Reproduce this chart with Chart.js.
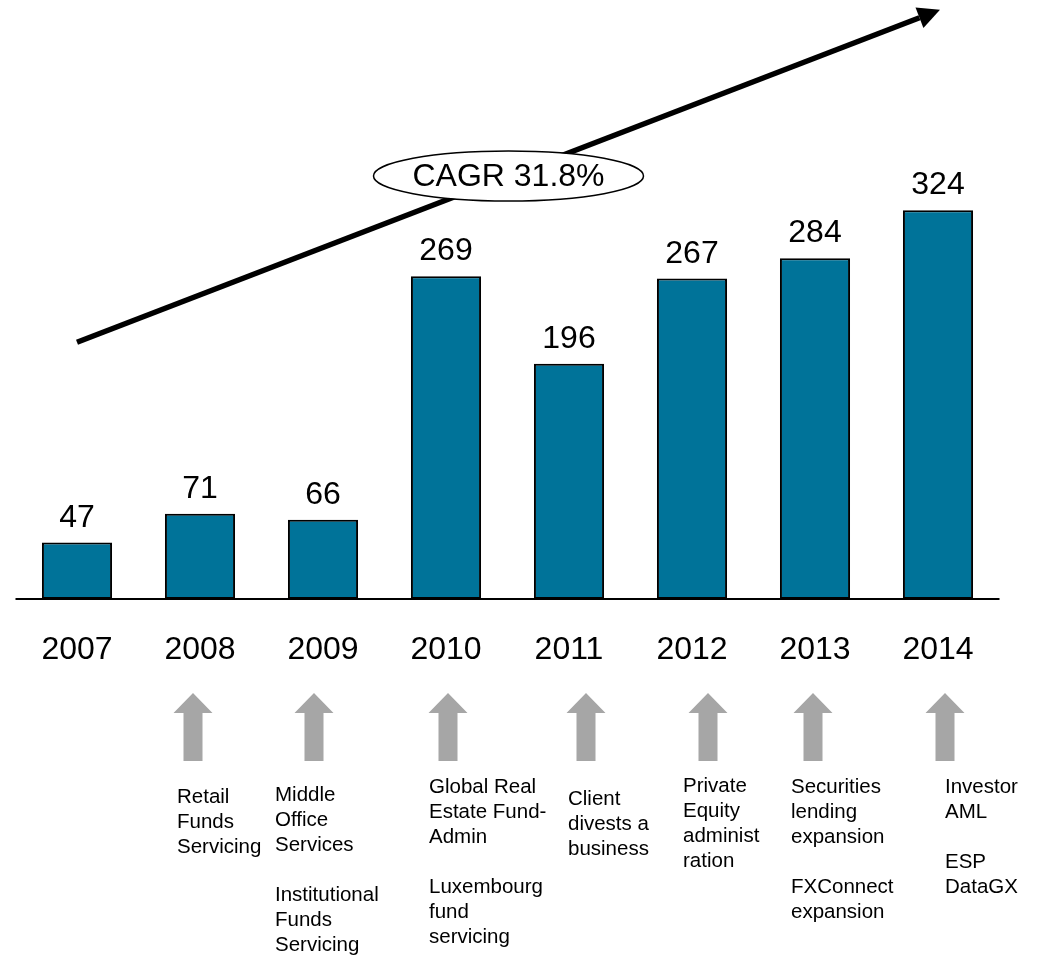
<!DOCTYPE html>
<html>
<head>
<meta charset="utf-8">
<script src="https://cdn.jsdelivr.net/npm/chart.js@4"></script>
<style>
  body { margin: 0; background: #fff; }
  #wrap { width: 1040px; height: 958px; position: relative; }
</style>
</head>
<body>
<div id="wrap"><canvas id="revChart"></canvas></div>
<script>
// data
const years = ['2007', '2008', '2009', '2010', '2011', '2012', '2013', '2014'];
const revenue = [47, 71, 66, 269, 196, 267, 284, 324];
const cagrLabel = 'CAGR 31.8%';
const notes = [
  [],
  ['Retail', 'Funds', 'Servicing'],
  ['Middle', 'Office', 'Services', '', 'Institutional', 'Funds', 'Servicing'],
  ['Global Real', 'Estate Fund-', 'Admin', '', 'Luxembourg', 'fund', 'servicing'],
  ['Client', 'divests a', 'business'],
  ['Private', 'Equity', 'administ', 'ration'],
  ['Securities', 'lending', 'expansion', '', 'FXConnect', 'expansion'],
  ['Investor', 'AML', '', 'ESP', 'DataGX']
];

// layout only (pixel offsets from each year's centre)
const arrowDx = [0, -7, -9, 2, 17, 16, -2, 7];
const noteDx = [0, -23, -48, -17, -1, -9, -24, 7];
const noteTop = [0, 803, 801, 793, 805, 792, 793, 793];
const trendStart = 214, trendEnd = 491; // axis units at first / last year

const FONT = '"Liberation Sans", Arial, sans-serif';
const ctx = document.getElementById('revChart').getContext('2d');

// draws baseline, labels, trend arrow, CAGR bubble and the grey arrows
const decor = {
  id: 'decor',
  afterDatasetsDraw(chart) {
    const c = chart.ctx;
    const xs = chart.scales.x, ys = chart.scales.y;
    const area = chart.chartArea;
    const y0 = ys.getPixelForValue(0);
    c.save();

    // baseline
    c.strokeStyle = '#000';
    c.lineWidth = 2;
    c.beginPath();
    c.moveTo(area.left, y0);
    c.lineTo(area.right, y0);
    c.stroke();

    // value labels and years
    c.fillStyle = '#000';
    c.font = '32px ' + FONT;
    c.textAlign = 'center';
    c.textBaseline = 'alphabetic';
    chart.getDatasetMeta(0).data.forEach((bar, i) => {
      c.fillText(String(revenue[i]), bar.x, bar.y - 16);
      c.fillText(years[i], xs.getPixelForValue(i), 659);
    });

    // trend arrow
    const x1 = xs.getPixelForValue(0), y1 = ys.getPixelForValue(trendStart);
    const x2 = xs.getPixelForValue(years.length - 1) + 2, y2 = ys.getPixelForValue(trendEnd);
    const ang = Math.atan2(y2 - y1, x2 - x1);
    const headL = 22, headW = 11;
    const bx = x2 - headL * Math.cos(ang), by = y2 - headL * Math.sin(ang);
    c.lineWidth = 5.5;
    c.beginPath();
    c.moveTo(x1, y1);
    c.lineTo(bx, by);
    c.stroke();
    c.beginPath();
    c.moveTo(x2, y2);
    c.lineTo(bx + headW * Math.sin(ang), by - headW * Math.cos(ang));
    c.lineTo(bx - headW * Math.sin(ang), by + headW * Math.cos(ang));
    c.closePath();
    c.fill();

    // CAGR bubble at the middle of the trend
    const mx = (x1 + x2) / 2, my = (y1 + y2) / 2;
    c.beginPath();
    c.ellipse(mx, my, 135, 25, 0, 0, Math.PI * 2);
    c.fillStyle = '#fff';
    c.fill();
    c.lineWidth = 1.5;
    c.stroke();
    c.fillStyle = '#000';
    c.font = '32px ' + FONT;
    c.textBaseline = 'middle';
    c.fillText(cagrLabel, mx, my + 1);

    // grey arrows and notes
    c.textBaseline = 'alphabetic';
    c.textAlign = 'left';
    c.font = '20.5px ' + FONT;
    notes.forEach((lines, i) => {
      if (!lines.length) return;
      const cx = xs.getPixelForValue(i) + arrowDx[i];
      c.fillStyle = '#a6a6a6';
      c.beginPath();
      c.moveTo(cx, 693);
      c.lineTo(cx + 19.5, 713);
      c.lineTo(cx + 9.5, 713);
      c.lineTo(cx + 9.5, 761);
      c.lineTo(cx - 9.5, 761);
      c.lineTo(cx - 9.5, 713);
      c.lineTo(cx - 19.5, 713);
      c.closePath();
      c.fill();

      c.fillStyle = '#000';
      const tx = xs.getPixelForValue(i) + noteDx[i];
      lines.forEach((t, k) => c.fillText(t, tx, noteTop[i] + k * 25));
    });
    c.restore();
  }
};

const chart = new Chart(ctx, {
  type: 'bar',
  data: {
    labels: years,
    datasets: [{
      data: revenue,
      backgroundColor: '#007399',
      borderColor: '#000',
      borderWidth: 2,
      borderSkipped: false,
      barPercentage: 0.57,
      categoryPercentage: 1
    }]
  },
  options: {
    responsive: true,
    maintainAspectRatio: false,
    animation: false,
    layout: { padding: { top: 59, bottom: 359, left: 15.5, right: 40.5 } },
    plugins: { legend: { display: false }, tooltip: { enabled: false } },
    scales: {
      x: { display: false },
      y: { display: false, min: 0, max: 450 }
    }
  },
  plugins: [decor]
});
</script>
</body>
</html>
